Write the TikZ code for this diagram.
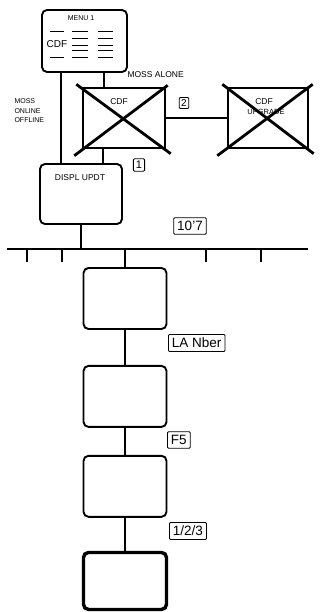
\documentclass[tikz,border=0pt]{standalone}
\usepackage{fontspec}
\setmainfont{Liberation Sans}
\usepackage{tikz}
\usetikzlibrary{positioning, calc}

\begin{document}
\begin{tikzpicture}[x=1pt, y=-1pt,
  screen/.style={draw, line width=1.9pt, rounded corners=5pt, inner sep=0pt,
    minimum width=83pt, minimum height=61pt},
  crossed/.style={draw, line width=1.4pt, inner sep=0pt,
    minimum width=82pt, minimum height=60pt},
  cross/.style={line width=2.8pt},
  keylabel/.style={draw, line width=0.9pt, rounded corners=1pt, inner sep=3.5pt,
    font=\fontsize{13.5}{13.5}\selectfont},
  wire/.style={line width=1.5pt},
  small/.style={font=\fontsize{6.5}{7.5}\selectfont, align=left},
  menuline/.style={line width=0.8pt}]
  \useasboundingbox (0,0) rectangle (320,612);

  % Menu screen
  \node[screen, minimum width=85pt, minimum height=62pt] (menu) at (84.5,41) {};
  \node[small, font=\fontsize{7}{8}\selectfont] (menutitle) at (81,18) {MENU 1};
  \node[font=\fontsize{10}{10}\selectfont] (menucdf) at (57,44) {CDF};
  \draw[menuline] (50,31) -- (64,31);
  \draw[menuline] (50,57) -- (64,57);
  \draw[menuline] (72,31) -- (88,31);
  \draw[menuline] (72,38) -- (88,38);
  \draw[menuline] (72,45) -- (88,45);
  \draw[menuline] (72,50) -- (88,50);
  \draw[menuline] (72,57) -- (88,57);
  \draw[menuline] (98,31) -- (113,31);
  \draw[menuline] (98,38) -- (113,38);
  \draw[menuline] (98,45) -- (113,45);
  \draw[menuline] (98,50) -- (113,50);
  \draw[menuline] (98,57) -- (113,57);

  % Crossed out screens
  \node[crossed] (cdfa) at (124,118) {};
  \node[crossed, minimum width=80pt] (cdfb) at (268,118) {};
  \draw[cross] ([shift={(-6pt,3pt)}]cdfa.north west) -- ([shift={(5pt,-5pt)}]cdfa.south east);
  \draw[cross] ([shift={(-8pt,-7pt)}]cdfa.south west) -- ([shift={(2pt,2pt)}]cdfa.north east);
  \draw[cross] ([shift={(-5pt,3pt)}]cdfb.north west) -- ([shift={(5pt,-5pt)}]cdfb.south east);
  \draw[cross] ([shift={(-10pt,-7pt)}]cdfb.south west) -- ([shift={(4pt,3pt)}]cdfb.north east);
  \node[small, font=\fontsize{8.5}{9}\selectfont] (cdfatext) at (119,102) {CDF};
  \node[small, font=\fontsize{8.5}{9}\selectfont] (cdfbtext) at (264,102) {CDF};
  \node[small, font=\fontsize{7.5}{8}\selectfont] (cdfbmode) at (266,112) {UPGRADE};

  % Display update screen
  \node[screen, minimum width=82pt, minimum height=60pt] (displ) at (81,194) {};
  \node[small, font=\fontsize{8.5}{9}\selectfont] (displtext) at (80,178) {DISPL UPDT};

  % Links between the upper screens
  \draw[wire] ([xshift=20pt]menu.south west) -- ([xshift=20pt]menu.south west |- displ.north);
  \draw[wire] ([xshift=-24pt]menu.south east) -- ([xshift=-24pt]menu.south east |- cdfa.north);
  \draw[wire] ([xshift=-21pt]cdfa.south) -- ([xshift=-21pt]cdfa.south |- displ.north);
  \draw[wire] (cdfa.east) -- (cdfb.west);
  \node[small, font=\fontsize{8.5}{9}\selectfont, anchor=west] (mossalone) at (124,75) {MOSS ALONE};
  \node[small, font=\fontsize{7}{9.5}\selectfont, anchor=west] (mossline) at (11,111) {MOSS\\ONLINE\\OFFLINE};
  \node[keylabel, font=\fontsize{10}{10}\selectfont, inner sep=2pt] (key2) at (184,103) {2};
  \node[keylabel, font=\fontsize{11}{11}\selectfont, inner sep=2.5pt] (key1) at (139,165) {1};

  % Bus
  \coordinate (busl) at (7,249);
  \coordinate (busr) at (308,249);
  \draw[wire] (busl) -- (busr);
  \draw[wire] (27,249) -- (27,262);
  \draw[wire] (62,249) -- (62,262);
  \draw[wire] (206,249) -- (206,262);
  \draw[wire] (261,249) -- (261,262);
  \draw[wire] (displ.south) -- (displ.south |- busl);
  \node[keylabel] (key107) at (190,226) {10'7};

  % Screen chain
  \node[screen] (scra) at (125,298.5) {};
  \node[screen, below=35pt of scra] (scrb) {};
  \node[screen, below=27pt of scrb] (scrc) {};
  \node[screen, line width=3.4pt, below=33pt of scrc, minimum height=57pt] (scrd) {};
  \draw[wire] (scra.north |- busl) -- (scra.north);
  \draw[wire] (scra.south) -- (scrb.north);
  \draw[wire] (scrb.south) -- (scrc.north);
  \draw[wire] (scrc.south) -- (scrd.north);
  \node[keylabel, anchor=west] (keylan) at (168,343) {LA Nber};
  \node[keylabel, anchor=west] (keyf5) at (167,440) {F5};
  \node[keylabel, anchor=west] (key123) at (169,531) {1/2/3};
\end{tikzpicture}
\end{document}
